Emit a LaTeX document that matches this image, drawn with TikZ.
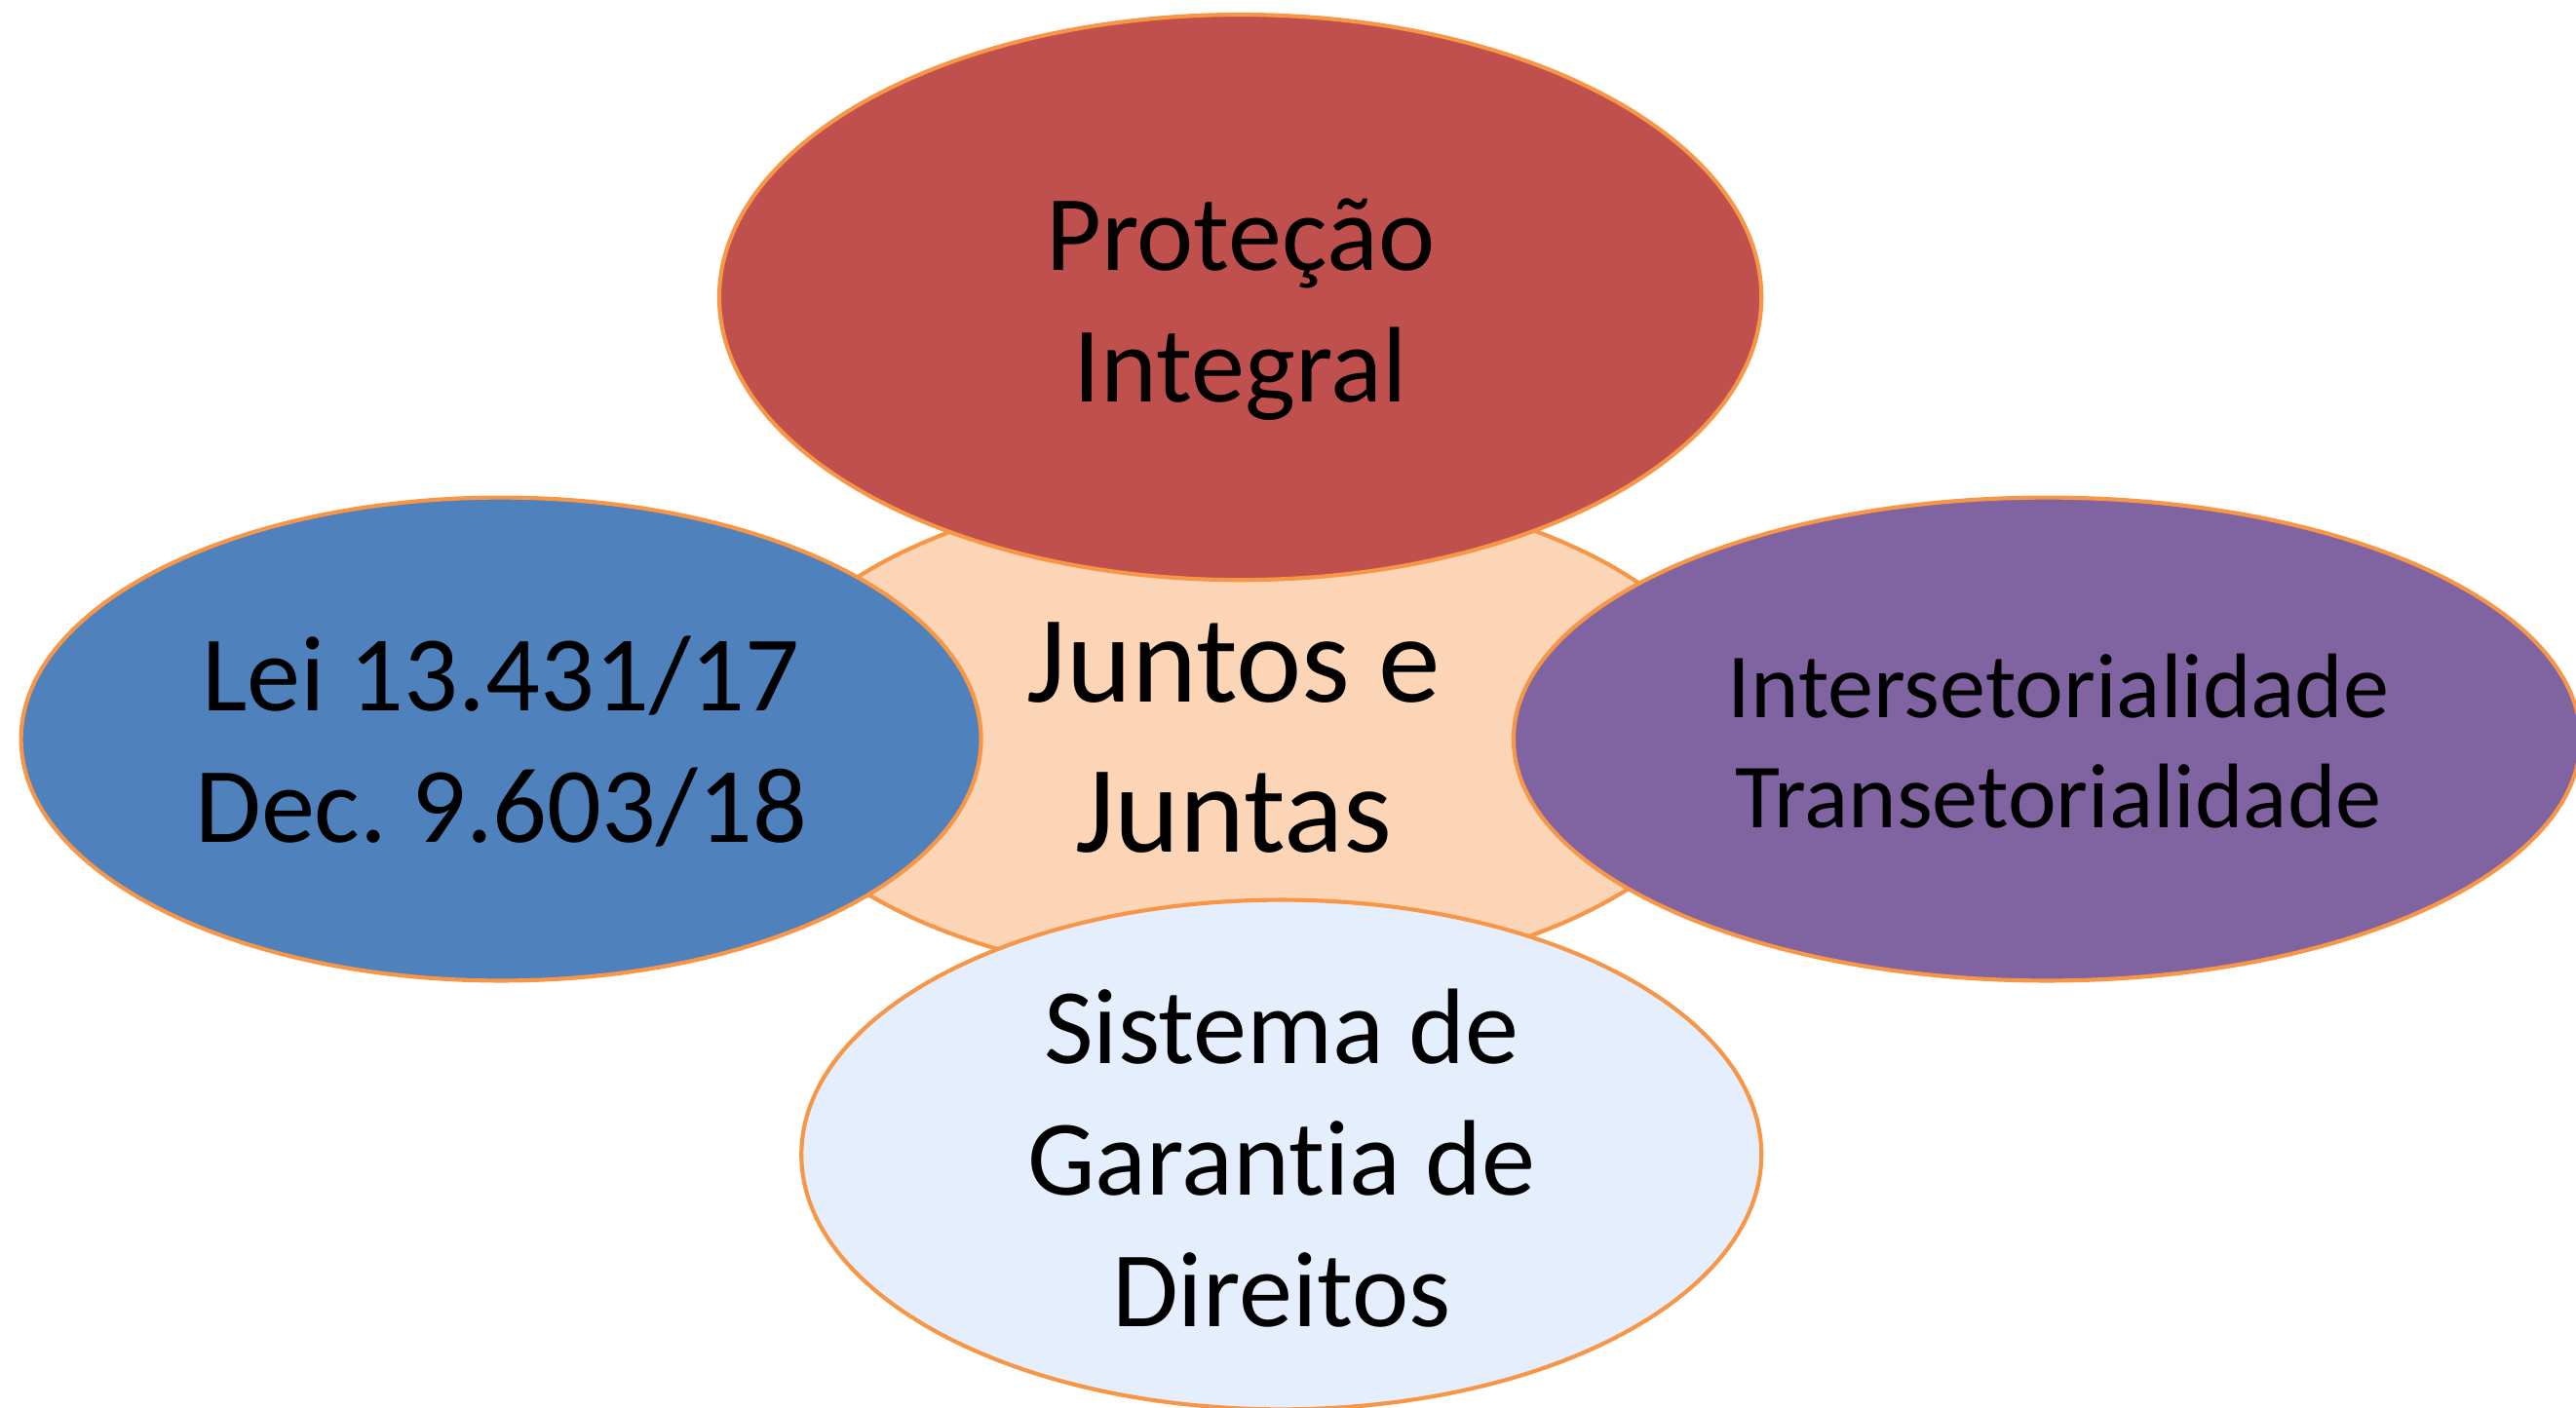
\documentclass[tikz,border=0pt]{standalone}
\usepackage{fontspec}
\setmainfont{Carlito}[Ligatures={NoCommon,NoRare,NoContextual}]
\usetikzlibrary{shapes}

\definecolor{rim}{HTML}{F79646}
\definecolor{peach}{HTML}{FBD5B5}
\definecolor{brick}{HTML}{C0504D}
\definecolor{steel}{HTML}{4F81BD}
\definecolor{violet}{HTML}{8064A2}
\definecolor{pale}{HTML}{E5EEFC}

\frenchspacing

\begin{document}
\begin{tikzpicture}[x=0.01cm, y=-0.01cm,
bubble/.style={draw=rim, line width=0.7pt, ellipse, inner sep=0pt},
%
words/.style={align=center, anchor=base, inner sep=0pt,
  font=\fontsize{18.6}{22.8}\selectfont},
%
bigwords/.style={words, font=\fontsize{21.5}{26}\selectfont},
%
smallwords/.style={words, font=\fontsize{15.9}{19.1}\selectfont}]

\useasboundingbox (0,0) rectangle (1568,857);

\begin{scope}
  %%%%%%%%%%%%%%%%%%%%%%%%%%%%%%
  \node [bubble, fill=peach, minimum width=6cm, minimum height=3.04cm]
  (juntos) at (757,446) {};
  \node [bubble, fill=steel, minimum width=5.84cm, minimum height=2.94cm]
  (lei) at (305,450) {};
  \node [bubble, fill=violet, minimum width=6.49cm, minimum height=2.94cm]
  (inter) at (1246,450) {};
  \node [bubble, fill=brick, minimum width=6.34cm, minimum height=3.44cm]
  (protecao) at (755,181) {};
  \node [bubble, fill=pale, minimum width=5.84cm, minimum height=3.1cm]
  (sistema) at (780,703) {};
  %%%%%%%%%%%%%%%%%%%%%%%%%%%%%%
\end{scope}

% base of each text = baseline of its last line
\begin{scope}
  \node [words] (protecaoT) at (755,245) {Proteção\\Integral};
  \node [bigwords] (juntosT) at (751,519) {Juntos e\\Juntas};
  \node [words] (leiT) at (305,513) {Lei 13.431/17\\Dec. 9.603/18};
  \node [smallwords] (interT) at (1253,504)
  {Intersetorialidade\\Transetorialidade};
  \node [words] (sistemaT) at (780,808) {Sistema de\\Garantia de\\Direitos};
\end{scope}

\end{tikzpicture}
\end{document}
